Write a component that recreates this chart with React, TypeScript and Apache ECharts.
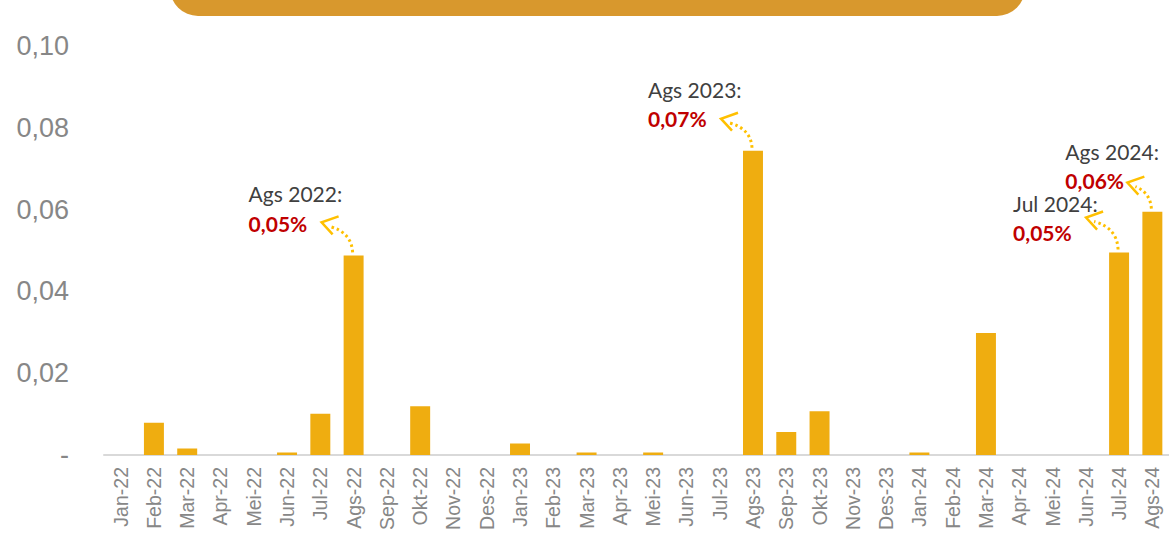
import React, { useEffect, useRef } from "react";
import * as echarts from "echarts";

const categories = [
  "Jan-22", "Feb-22", "Mar-22", "Apr-22", "Mei-22", "Jun-22", "Jul-22", "Ags-22",
  "Sep-22", "Okt-22", "Nov-22", "Des-22", "Jan-23", "Feb-23", "Mar-23", "Apr-23",
  "Mei-23", "Jun-23", "Jul-23", "Ags-23", "Sep-23", "Okt-23", "Nov-23", "Des-23",
  "Jan-24", "Feb-24", "Mar-24", "Apr-24", "Mei-24", "Jun-24", "Jul-24", "Ags-24",
];

const values = [
  0, 0.0079, 0.0016, 0, 0, 0.0006, 0.0101, 0.0488,
  0, 0.0119, 0, 0, 0.0028, 0, 0.0006, 0,
  0.0006, 0, 0, 0.0744, 0.0056, 0.0107, 0, 0,
  0.0006, 0, 0.0298, 0, 0, 0, 0.0495, 0.0595,
];

const yTicks = [0, 0.02, 0.04, 0.06, 0.08, 0.1];

const annotationIndex = [7, 19, 30, 31];
const annotationTitle = ["Ags 2022:", "Ags 2023:", "Jul 2024:", "Ags 2024:"];
const annotationValue = ["0,05%", "0,07%", "0,05%", "0,06%"];

// layout offsets relative to bar top (styling only)
const annotationLayout = [
  { tx: -105, ty: -62, vy: -32, ax: -32, ay: -33 },
  { tx: -105, ty: -61, vy: -32, ax: -32, ay: -32 },
  { tx: -106, ty: -49, vy: -20, ax: -33, ay: -35 },
  { tx: -87, ty: -60, vy: -31, ax: -25, ay: -29 },
];

const GOLD = "#EFAD10";
const ARROW = "#FFC000";
const AXISFONT = "'Liberation Sans', Arial, sans-serif";

export default function App() {
  const ref = useRef<HTMLDivElement>(null);

  useEffect(() => {
    if (!ref.current) return;
    const chart = echarts.init(ref.current, null, { renderer: "svg" });
    chart.setOption({
      animation: false,
      backgroundColor: "#ffffff",
      grid: {
        left: 104,
        right: 0,
        top: 46,
        bottom: 78,
        containLabel: false,
        outerBoundsMode: "none",
      },
      xAxis: {
        type: "category",
        data: categories,
        axisLine: { show: true, lineStyle: { color: "#D9D9D9", width: 2 } },
        axisTick: { show: false },
        axisLabel: {
          rotate: 90,
          interval: 0,
          margin: 12,
          color: "#878787",
          fontSize: 19.5,
          fontFamily: AXISFONT,
        },
      },
      yAxis: {
        type: "value",
        min: 0,
        max: 0.1,
        interval: 0.02,
        axisLine: { show: false },
        axisTick: { show: false },
        splitLine: { show: false },
        axisLabel: {
          margin: 35,
          color: "#878787",
          fontSize: 27,
          fontFamily: AXISFONT,
          formatter: (v: number) => {
            const t = yTicks.find((x) => Math.abs(x - v) < 1e-9);
            const val = t === undefined ? v : t;
            return val === 0 ? "-" : val.toFixed(2).replace(".", ",");
          },
        },
      },
      series: [
        {
          type: "bar",
          data: values,
          barWidth: "60%",
          itemStyle: { color: GOLD },
        },
      ],
    });

    const graphics: any[] = [
      {
        type: "rect",
        shape: { x: 170, y: -40, width: 855, height: 56, r: 28 },
        style: { fill: "#D8982D" },
        z: 10,
      },
    ];

    annotationIndex.forEach((idx, i) => {
      const p = chart.convertToPixel({ seriesIndex: 0 }, [idx, values[idx]]) as number[];
      const cx = p[0];
      const top = p[1];
      const L = annotationLayout[i];
      const vx = cx + L.ax;
      const vy = top + L.ay;
      graphics.push({
        type: "bezierCurve",
        shape: {
          x1: cx - 1,
          y1: top - 3,
          cpx1: cx - 2,
          cpy1: top + L.ay + 10,
          x2: vx + 8,
          y2: vy + 4,
        },
        style: { stroke: ARROW, lineWidth: 3, lineDash: [2.5, 3], fill: null },
        z: 10,
      });
      graphics.push({
        type: "polyline",
        shape: { points: [[vx + 17, vy - 6], [vx, vy], [vx + 11, vy + 12]] },
        style: { stroke: ARROW, lineWidth: 2.5, fill: null },
        z: 10,
      });
      graphics.push({
        type: "text",
        x: cx + L.tx,
        y: top + L.ty,
        style: {
          text: annotationTitle[i],
          fill: "#404040",
          font: "21px Lato, 'Open Sans', sans-serif",
          textAlign: "left",
          textVerticalAlign: "middle",
        },
        z: 10,
      });
      graphics.push({
        type: "text",
        x: cx + L.tx,
        y: top + L.vy,
        style: {
          text: annotationValue[i],
          fill: "#C00000",
          font: "bold 21px Lato, 'Open Sans', sans-serif",
          textAlign: "left",
          textVerticalAlign: "middle",
        },
        z: 10,
      });
    });

    chart.setOption({ graphic: graphics });

    return () => chart.dispose();
  }, []);

  return (
    <div
      ref={ref}
      style={{ position: "fixed", left: 0, top: 0, width: 1169, height: 533 }}
    />
  );
}
